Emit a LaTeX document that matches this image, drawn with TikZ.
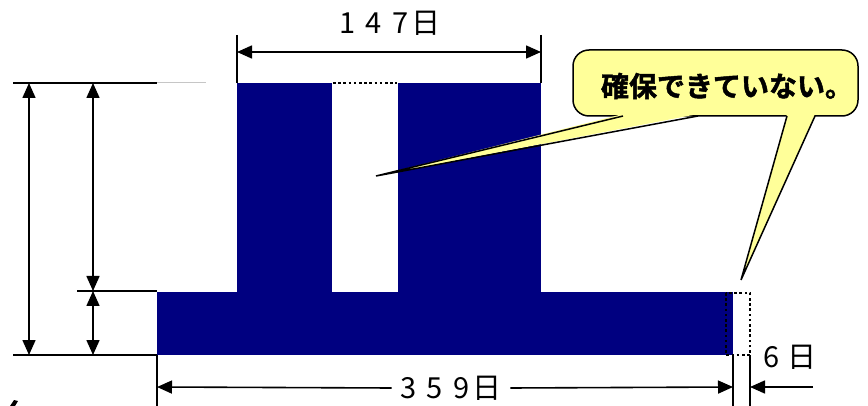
\documentclass[tikz,border=0pt]{standalone}
\usepackage{fontspec}
\newfontfamily\jp{Noto Sans CJK JP}
\newfontfamily\jpb[FakeBold=1.6]{Noto Sans CJK JP Bold}
\usetikzlibrary{arrows.meta,calc}
\definecolor{navy}{HTML}{000080}
\definecolor{callyellow}{HTML}{FFFF99}
\begin{document}
\begin{tikzpicture}[x=1pt,y=-1pt,
  dimtip/.tip={Triangle[length=15pt,width=13pt]},
  dimline/.style={line width=1.6pt},
  extline/.style={line width=1.3pt},
  dotline/.style={line width=2.4pt, dash pattern=on 2.6pt off 2.6pt},
  lbl/.style={font=\jp\fontsize{29}{29}\selectfont, inner sep=1pt},
  calltext/.style={font=\jpb\fontsize{28}{28}\selectfont, inner sep=0pt},
]
\useasboundingbox (0,0) rectangle (868,406);

% blue shape
\fill[navy] (237,83) rectangle (332,292);
\fill[navy] (398,83) rectangle (541,292);
\fill[navy] (157,292) rectangle (733,355);

% dotted parts
\draw[dotline] (333,83) -- (397,83);
\draw[dotline] (726,293) rectangle (750,355);

% coordinates
\coordinate (a147l) at (237,52);
\coordinate (a147r) at (541,52);
\coordinate (e147lt) at (237,35);
\coordinate (e147lb) at (237,83);
\coordinate (e147rt) at (541,35);
\coordinate (e147rb) at (541,83);

\coordinate (htl) at (13,83);
\coordinate (htr) at (157,83);
\coordinate (hgr) at (206,83);
\coordinate (hml) at (77,291);
\coordinate (hmr) at (157,291);
\coordinate (hbl) at (13,355);
\coordinate (hbr) at (157,355);

\coordinate (v1t) at (29,83);
\coordinate (v1b) at (29,355);
\coordinate (v2t) at (93,83);
\coordinate (v2m) at (93,291);
\coordinate (v2b) at (93,355);

\coordinate (e1t) at (157,355);
\coordinate (e1b) at (157,406);
\coordinate (e2t) at (733,355);
\coordinate (e2b) at (733,406);
\coordinate (e3t) at (750,355);
\coordinate (e3b) at (750,406);

\coordinate (a359l) at (157,387);
\coordinate (a359r) at (733,387);
\coordinate (a6r) at (813,387);
\coordinate (a6l) at (750,387);

% labels
\node[lbl] (l147) at (390,23) {1\hspace{10pt}4\hspace{10pt}7\hspace{3pt}日};
\node[lbl, inner xsep=9pt] (l359) at (451,388) {3\hspace{10pt}5\hspace{10pt}9\hspace{3pt}日};
\node[lbl] (l6) at (790,357) {6\hspace{7pt}日};

% 147 dimension
\draw[extline] (e147lt) -- (e147lb);
\draw[extline] (e147rt) -- (e147rb);
\draw[dimline, dimtip-dimtip] (a147l) -- (a147r);

% left dimensions
\draw[extline] (htl) -- (htr);
\draw[gray!45, line width=1pt] (htr) -- (hgr);
\draw[extline] (hml) -- (hmr);
\draw[extline] (hbl) -- (hbr);
\draw[dimline, dimtip-dimtip] (v1t) -- (v1b);
\draw[dimline, dimtip-dimtip] (v2t) -- (v2m);
\draw[dimline, dimtip-dimtip] (v2m) -- (v2b);

% bottom dimensions
\draw[extline] (e1t) -- (e1b);
\draw[extline] (e2t) -- (e2b);
\draw[extline] (e3t) -- (e3b);
\draw[dimline, -dimtip] (l359.west) -- (a359l);
\draw[dimline, -dimtip] (l359.east) -- (a359r);
\draw[dimline, -dimtip] (a6r) -- (a6l);

% callout
\coordinate (p1a) at (623,116);
\coordinate (p1b) at (698,116);
\coordinate (p1t) at (376,176);
\coordinate (p2a) at (787,116);
\coordinate (p2b) at (815,116);
\coordinate (p2t) at (741,280);
\draw[line width=1.5pt, fill=callyellow, rounded corners=16pt] (573,50) rectangle (858,116);
\fill[callyellow] (p1t) -- ($(p1a)+(0,-2)$) -- ($(p1b)+(0,-2)$) -- cycle;
\fill[callyellow] (p2t) -- ($(p2a)+(0,-2)$) -- ($(p2b)+(0,-2)$) -- cycle;
\draw[line width=1.5pt, line join=miter] (p1a) -- (p1t) -- (p1b);
\draw[line width=1.5pt] (p2a) -- (p2t) -- (p2b);
\node[calltext] (call) at (727,86) {確保できていない。};

% small mark at bottom left
\fill (10,406) -- (14,400) -- (18,401) -- (15,406) -- cycle;
\end{tikzpicture}
\end{document}
